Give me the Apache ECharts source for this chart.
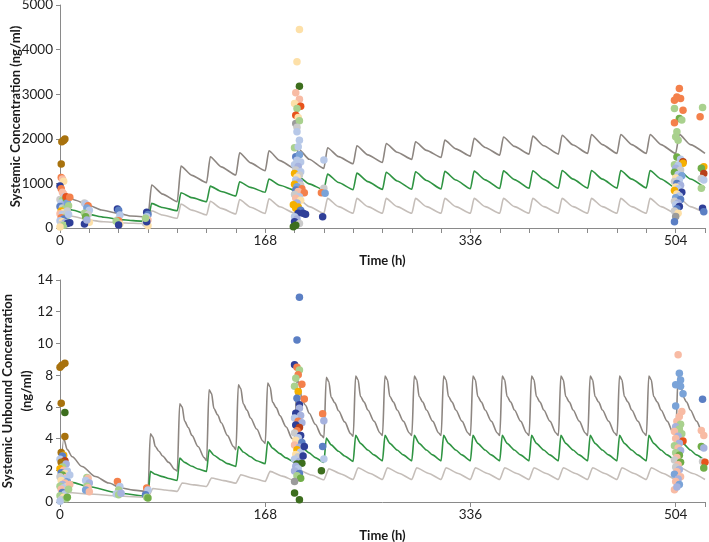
<!DOCTYPE html>
<html><head><meta charset="utf-8">
<script src="https://cdn.jsdelivr.net/npm/echarts@6/dist/echarts.min.js"></script>
<style>html,body{margin:0;padding:0;background:#fff}#c{width:709px;height:542px}</style>
</head><body><div id="c"></div>
<script>
// ---------- tick labels ----------
const xMajorTicks = [0, 168, 336, 504];
const topTitle = 'Systemic Concentration (ng/ml)';
const botTitle = 'Systemic Unbound Concentration\n(ng/ml)';
const xTitle = 'Time (h)';

// ---------- model lines, top (total concentration, ng/ml) ----------
const topUpper = [[0,0],[2,780],[6,720],[12,627],[23,515],[34,403],[48,329],[58,269],[72,250],
[75,963],[84,760],[96,590],[99,1388],[108,1180],[120,1015],[123,1597],[132,1370],[144,1187],
[147,1686],[156,1460],[168,1283],[171,1731],[180,1510],[192,1337],[195,1784],[204,1540],[216,1337],
[219,1800],[228,1600],[240,1440],[243,1843],[252,1640],[264,1470],[267,1896],[276,1700],[288,1538],
[291,1933],[300,1740],[312,1583],[315,1970],[324,1775],[336,1612],[339,2010],[348,1805],[360,1635],
[363,2040],[372,1830],[384,1657],[387,2060],[396,1845],[408,1657],[411,2080],[420,1860],[432,1672],
[435,2095],[444,1870],[456,1672],[459,2098],[468,1870],[480,1672],[483,2098],[492,1870],[504,1672],
[507,2100],[516,1870],[528,1672]];
const topMedian = [[0,0],[2,480],[6,440],[10,403],[23,306],[36,240],[48,194],[60,165],[72,142],
[75,553],[84,460],[96,387],[99,790],[108,680],[120,589],[123,940],[132,820],[144,717],
[147,1037],[156,910],[168,800],[171,1097],[180,960],[192,850],[195,1160],[204,990],[216,855],
[219,1209],[228,1020],[240,860],[243,1230],[252,1040],[264,865],[267,1250],[276,1055],[288,870],
[291,1260],[300,1065],[312,875],[315,1270],[324,1075],[336,880],[339,1275],[348,1080],[360,885],
[363,1280],[372,1085],[384,890],[387,1285],[396,1090],[408,890],[411,1290],[420,1095],[432,895],
[435,1290],[444,1095],[456,895],[459,1290],[468,1095],[480,900],[483,1290],[492,1100],[504,900],
[507,1290],[516,1100],[528,900]];
const topLower = [[0,0],[2,330],[6,300],[10,265],[23,180],[36,140],[48,119],[60,105],[72,95],
[75,388],[84,290],[96,217],[99,537],[108,400],[120,290],[123,600],[132,440],[144,315],
[147,640],[156,465],[168,325],[171,655],[180,475],[192,330],[195,660],[204,480],[216,330],
[219,665],[228,480],[240,330],[243,665],[252,480],[264,330],[267,665],[276,480],[288,330],
[291,665],[300,480],[312,330],[315,665],[324,480],[336,330],[339,665],[348,480],[360,330],
[363,665],[372,480],[384,330],[387,665],[396,480],[408,330],[411,665],[420,480],[432,330],
[435,665],[444,480],[456,330],[459,665],[468,480],[480,330],[483,665],[492,480],[504,330],
[507,665],[516,480],[528,330]];

// ---------- model lines, bottom (unbound concentration, ng/ml) ----------
const botUpper = [[0,0],[3,4.0],[6,3.3],[10,2.85],[18,2.24],[29,1.61],[40,1.2],[50,0.88],[60,0.75],[72,0.65],
[74,4.3],[76,4.1],[78,3.5],[81,3.2],[84,2.9],[89,2.5],[94,2.05],[96,1.95],
[98,6.2],[100,6.0],[102,5.1],[105,4.7],[108,4.2],[113,3.5],[118,2.8],[120,2.6],
[122,7.07],[124,6.85],[126,5.9],[129,5.5],[132,5.0],[137,4.2],[142,3.5],[144,3.3],
[146,7.39],[148,7.15],[150,6.2],[153,5.8],[156,5.3],[161,4.6],[166,3.85],[168,3.7],
[170,7.5],[172,7.25],[174,6.3],[177,5.95],[180,5.45],[185,4.75],[190,4.0],[192,3.9],
[194,7.7],[196,7.45],[198,6.45],[201,6.1],[204,5.6],[209,4.9],[214,4.2],[216,4.05],
[218,7.87],[220,7.6],[222,6.6],[225,6.25],[228,5.75],[233,5.05],[238,4.3],[240,4.15],
[242,7.95],[244,7.7],[246,6.65],[249,6.3],[252,5.8],[257,5.1],[262,4.35],[264,4.2],
[266,7.95],[268,7.7],[270,6.65],[273,6.3],[276,5.8],[281,5.1],[286,4.35],[288,4.2],
[290,7.95],[292,7.7],[294,6.65],[297,6.3],[300,5.8],[305,5.1],[310,4.35],[312,4.2],
[314,7.95],[316,7.7],[318,6.65],[321,6.3],[324,5.8],[329,5.1],[334,4.35],[336,4.2],
[338,7.95],[340,7.7],[342,6.65],[345,6.3],[348,5.8],[353,5.1],[358,4.35],[360,4.2],
[362,7.95],[364,7.7],[366,6.65],[369,6.3],[372,5.8],[377,5.1],[382,4.35],[384,4.2],
[386,7.95],[388,7.7],[390,6.65],[393,6.3],[396,5.8],[401,5.1],[406,4.35],[408,4.2],
[410,7.95],[412,7.7],[414,6.65],[417,6.3],[420,5.8],[425,5.1],[430,4.35],[432,4.2],
[434,7.95],[436,7.7],[438,6.65],[441,6.3],[444,5.8],[449,5.1],[454,4.35],[456,4.2],
[458,7.95],[460,7.7],[462,6.65],[465,6.3],[468,5.8],[473,5.1],[478,4.35],[480,4.2],
[482,7.95],[484,7.7],[486,6.65],[489,6.3],[492,5.8],[497,5.1],[502,4.35],[504,4.2],
[506,7.95],[508,7.7],[510,6.65],[513,6.3],[516,5.8],[521,5.1],[526,4.35],[528,4.2]];
const botMedian = [[0,0],[2,1.6],[5,1.4],[10,1.24],[23,0.98],[48,0.57],[72,0.35],
[74,1.93],[78,1.75],[84,1.6],[89,1.48],[96,1.36],
[98,2.77],[102,2.5],[108,2.25],[113,2.08],[120,1.93],
[122,3.29],[126,2.95],[132,2.65],[137,2.42],[144,2.24],
[146,3.5],[150,3.15],[156,2.85],[161,2.6],[168,2.41],
[170,3.82],[174,3.4],[180,3.05],[185,2.78],[192,2.5],
[194,3.9],[198,3.45],[204,3.1],[209,2.8],[216,2.5],
[218,4.03],[222,3.6],[228,3.2],[233,2.9],[240,2.56],
[242,4.2],[246,3.7],[252,3.28],[257,2.97],[264,2.6],
[266,4.2],[270,3.7],[276,3.28],[281,2.97],[288,2.6],
[290,4.2],[294,3.7],[300,3.28],[305,2.97],[312,2.6],
[314,4.2],[318,3.7],[324,3.28],[329,2.97],[336,2.6],
[338,4.2],[342,3.7],[348,3.28],[353,2.97],[360,2.6],
[362,4.2],[366,3.7],[372,3.28],[377,2.97],[384,2.6],
[386,4.2],[390,3.7],[396,3.28],[401,2.97],[408,2.6],
[410,4.2],[414,3.7],[420,3.28],[425,2.97],[432,2.6],
[434,4.2],[438,3.7],[444,3.28],[449,2.97],[456,2.6],
[458,4.2],[462,3.7],[468,3.28],[473,2.97],[480,2.6],
[482,4.2],[486,3.7],[492,3.28],[497,2.97],[504,2.6],
[506,4.2],[510,3.7],[516,3.28],[521,2.97],[528,2.6]];
const botLower = [[0,0],[3,0.65],[10,0.58],[24,0.5],[48,0.38],[72,0.28],
[76,0.85],[86,0.76],[96,0.67],[100,1.2],[110,1.08],[120,0.98],[124,1.51],[134,1.35],[144,1.19],
[148,1.72],[158,1.5],[168,1.3],[172,1.93],[182,1.63],[192,1.35],[196,2.0],[206,1.7],[216,1.4],
[220,2.1],[230,1.77],[240,1.42],[244,2.16],[254,1.8],[264,1.42],[268,2.16],[278,1.8],[288,1.42],
[292,2.16],[302,1.8],[312,1.42],[316,2.16],[326,1.8],[336,1.42],[340,2.16],[350,1.8],[360,1.42],
[364,2.16],[374,1.8],[384,1.42],[388,2.16],[398,1.8],[408,1.42],[412,2.16],[422,1.8],[432,1.42],
[436,2.16],[446,1.8],[456,1.42],[460,2.16],[470,1.8],[480,1.42],[484,2.16],[494,1.8],[504,1.42],
[508,2.16],[518,1.8],[528,1.42]];

// ---------- observations: [time h, value, subject id] ----------
const topObs = [
[1,1433,0],[1.5,1932,0],[3,1960,0],[4,1993,0],
[1,1135,3],[2,1100,4],[3,1050,5],[0,940,2],[1,880,3],[2,800,4],[3,760,4],[4,700,7],[0,640,9],[2,620,6],
[5,600,9],[1,560,7],[3,520,13],[5,660,12],[0,480,8],[2,450,9],[4,430,6],[1,380,10],[3,350,5],[0,320,4],
[2,300,7],[4,280,9],[5,250,6],[1,230,3],[3,200,8],[0,160,7],[2,140,5],[4,120,13],[6,100,2],[1,80,9],
[3,60,6],[0,20,5],[5,700,11],[6,560,16],[8,120,2],[8,690,3],[7,500,6],[6,380,9],[7,300,7],
[20,560,9],[21,540,7],[23,500,3],[22,450,16],[24,400,7],[20,330,6],[23,300,9],[21,250,12],[24,130,5],
[20,90,2],[22,180,13],
[47,425,2],[48,400,8],[49,291,7],[47,180,9],[48,162,3],[49,90,5],[46,150,6],[48,70,2],
[71,351,2],[72,300,8],[71,254,7],[72,180,4],[70,104,9],[72,52,5],[71,140,2],[70,220,6],
[196,4449,5],[194,3725,5],[196,3180,1],[193,3030,4],[196,2888,4],[192,2791,5],[197,2732,11],[194,2680,6],
[193,2530,11],[195,2478,5],[193,2344,14],[196,2403,6],[194,2260,9],[194,2157,7],[196,1970,7],[192,1798,6],
[195,1820,7],[193,1597,8],[196,1640,16],[194,1520,7],[197,1480,7],[192,1420,7],[195,1380,13],[193,1300,9],
[197,1260,7],[192,1224,10],[196,1187,9],[194,1140,5],[193,1075,7],[196,1030,13],[192,980,10],[197,960,9],
[194,925,16],[198,880,3],[193,850,8],[195,820,4],[200,790,3],[192,750,9],[196,700,7],[193,665,4],
[197,620,5],[194,560,13],[191,520,10],[195,470,10],[193,441,10],[197,400,8],[195,329,2],[199,329,2],
[201,310,2],[192,254,7],[194,200,13],[192,141,2],[196,100,9],[191,30,1],[193,60,1],
[216,1523,7],[216,889,9],[214,790,3],[217,780,16],[215,254,2],
[507,3128,3],[505,2940,3],[503,2866,3],[508,2903,3],[503,2680,6],[510,2642,3],[507,2456,12],[509,2420,6],
[503,2358,3],[505,2157,6],[504,2045,6],[506,1970,6],[505,1590,12],[508,1540,7],[510,1485,15],[510,1450,10],
[503,1420,6],[506,1400,7],[504,1340,13],[508,1300,9],[503,1250,12],[506,1200,7],[509,1170,16],[504,1120,5],
[507,1080,7],[503,1040,9],[505,1000,8],[508,960,13],[504,920,5],[506,880,7],[503,840,10],[509,800,2],
[505,760,5],[507,720,7],[504,680,16],[508,640,8],[503,600,9],[506,560,13],[504,520,7],[507,480,2],
[505,430,8],[503,380,9],[506,330,5],[504,260,14],[503,141,8],
[526,2702,6],[524,2493,3],[527,1373,10],[525,1337,12],[527,1224,15],[525,1112,9],[527,1075,7],[525,889,6],
[526,441,2],[527,366,8]];

const botObs = [
[0,8.50,0],[1.5,8.63,0],[4,8.75,0],[1,6.23,0],[4,5.64,1],[4,4.13,0],[1,3.12,0],[3,2.95,10],[2,2.9,8],
[0,2.7,7],[4,2.6,15],[1,2.5,0],[5,2.4,13],[2,2.2,6],[0,2.1,10],[3,2.0,4],[6,1.95,7],[1,1.85,8],[4,1.8,5],
[2,1.7,12],[0,1.6,9],[5,1.55,4],[3,1.45,7],[1,1.35,5],[6,1.3,16],[4,1.2,4],[2,1.1,13],[0,1.0,6],[5,0.95,5],
[3,0.9,7],[1,0.8,4],[6,0.75,9],[2,0.6,8],[4,0.5,7],[0,0.4,6],[3,0.3,5],[1,0.15,9],[5,0.2,6],[0,0.05,7],
[6,0.3,12],[8,1.7,7],[8,1.1,4],[7,0.8,6],
[22,1.55,6],[23,1.5,4],[21,1.35,7],[24,1.2,13],[22,1.0,6],[23,0.9,4],[21,0.75,16],[24,0.65,4],
[47,1.30,3],[49,0.98,7],[48,0.75,6],[46,0.5,7],[48,0.46,6],[50,0.55,13],
[71,0.88,3],[72,0.75,7],[70,0.46,8],[71,0.3,6],[72,0.25,12],
[196,12.91,8],[194,10.22,8],[192,8.65,2],[194,8.5,3],[196,8.33,6],[195,8.02,3],[193,7.8,6],[198,7.43,3],
[192,7.3,6],[195,6.97,10],[194,6.55,8],[200,6.5,3],[196,6.13,2],[196,5.92,13],[193,5.6,2],[197,5.45,13],
[192,5.3,7],[195,5.1,3],[198,5.0,13],[193,4.85,2],[196,4.7,15],[194,4.5,3],[192,4.35,9],[197,4.2,2],
[195,4.05,7],[193,3.9,5],[198,3.75,8],[192,3.6,4],[196,3.45,13],[194,3.3,10],[197,3.15,7],[193,3.0,5],
[195,2.85,9],[192,2.7,7],[196,2.55,13],[194,2.4,1],[198,2.45,1],[193,2.25,13],[195,2.1,7],[192,1.95,13],
[196,1.8,8],[194,1.65,6],[197,1.5,12],[192,1.3,14],[192,0.57,1],[196,0.14,1],[200,3.5,2],[199,2.9,2],
[215,5.56,3],[216,5.12,13],[215,3.50,8],[216,2.71,7],[214,1.97,1],
[506,9.28,4],[507,8.12,16],[508,7.7,16],[504,7.39,16],[508,7.3,16],[510,6.82,16],[504,6.06,16],[509,5.71,4],
[507,5.39,4],[505,5.1,4],[508,4.9,6],[504,4.75,13],[507,4.6,6],[503,4.45,4],[509,4.3,6],[506,4.15,13],
[504,4.0,4],[510,3.85,11],[507,3.7,13],[503,3.55,6],[506,3.4,4],[508,3.25,13],[504,3.1,6],[507,2.95,12],
[505,2.8,4],[503,2.65,9],[508,2.5,12],[506,2.35,4],[504,2.2,9],[507,2.05,13],[505,1.9,4],[503,1.75,16],
[508,1.6,4],[506,1.45,13],[504,1.3,4],[507,1.1,16],[503,0.77,4],[505,0.95,13],
[526,6.48,8],[525,4.51,4],[527,4.2,4],[525,3.5,12],[527,3.4,13],[526,2.56,9],[528,2.5,11],[527,2.14,12]];

// ---------- styles ----------
const subjectColors = ['#a8720e','#3d6e1e','#2f3f98','#f4804b','#f8bba4','#fde0a8','#a9d18e','#b7c8e8',
  '#5b7fc4','#cbcbcb','#f5b000','#e8531c','#70ad47','#a6b2de','#9b9b9b','#b8401a','#7aa3d8'];
const FONT = 'Lato';
const axisCol = '#8a8a8a';
const cUpper = '#8d8681', cMed = '#2f9442', cLower = '#c5beb9';

function xAxisCfg(gi, tickEvery, gap) {
  return {
    type: 'value', gridIndex: gi, min: 0, max: 528, interval: tickEvery,
    name: xTitle, nameLocation: 'middle', nameGap: gap, nameMoveOverlap: false,
    nameTextStyle: {fontFamily: FONT, fontWeight: 'bold', fontSize: 13, color: '#1a1a1a'},
    axisLine: {show: true, lineStyle: {color: axisCol, width: 1}},
    axisTick: {show: true, length: 5, lineStyle: {color: axisCol}},
    splitLine: {show: false},
    axisLabel: {interval: 0, margin: 6, fontFamily: FONT, fontSize: 13.5, color: '#222',
      formatter: v => xMajorTicks.indexOf(v) >= 0 ? String(v) : ''}
  };
}
function yAxisCfg(gi, max, interval, title, gap) {
  return {
    type: 'value', gridIndex: gi, min: 0, max: max, interval: interval,
    name: title, nameLocation: 'middle', nameGap: gap, nameMoveOverlap: false,
    nameTextStyle: {fontFamily: FONT, fontWeight: 'bold', fontSize: 13, color: '#1a1a1a', lineHeight: 19},
    axisLine: {show: true, lineStyle: {color: axisCol, width: 1}},
    axisTick: {show: true, length: 4, lineStyle: {color: axisCol}},
    splitLine: {show: false},
    axisLabel: {margin: 7, fontFamily: FONT, fontSize: 13.5, color: '#222', formatter: v => String(v)}
  };
}
function lineS(gi, data, color, sm) {
  return {type: 'line', xAxisIndex: gi, yAxisIndex: gi, data: data, showSymbol: false, symbol: 'none',
    smooth: sm, smoothMonotone: 'x', lineStyle: {color: color, width: 1.6}, z: 2, animation: false};
}
function obsS(gi, data) {
  return {type: 'scatter', xAxisIndex: gi, yAxisIndex: gi, data: data, symbolSize: 7.5, z: 3,
    itemStyle: {opacity: 1, color: p => subjectColors[p.data[2]]}, animation: false};
}

const chart = echarts.init(document.getElementById('c'), null, {renderer: 'canvas'});
chart.setOption({
  backgroundColor: '#fff',
  animation: false,
  grid: [
    {left: 60, right: 4, top: 5, height: 223, containLabel: false, outerBoundsMode: 'none'},
    {left: 60, right: 4, top: 280, height: 222, containLabel: false, outerBoundsMode: 'none'}
  ],
  xAxis: [xAxisCfg(0, 24, 26), xAxisCfg(1, 168, 27)],
  yAxis: [yAxisCfg(0, 5000, 1000, topTitle, 35), yAxisCfg(1, 14, 2, botTitle, 24)],
  series: [
    lineS(0, topUpper, cUpper, 0.2), lineS(0, topMedian, cMed, 0.2), lineS(0, topLower, cLower, 0.2),
    lineS(1, botUpper, cUpper, 0.3), lineS(1, botMedian, cMed, 0.2), lineS(1, botLower, cLower, 0.2),
    obsS(0, topObs), obsS(1, botObs)
  ]
});
</script></body></html>
